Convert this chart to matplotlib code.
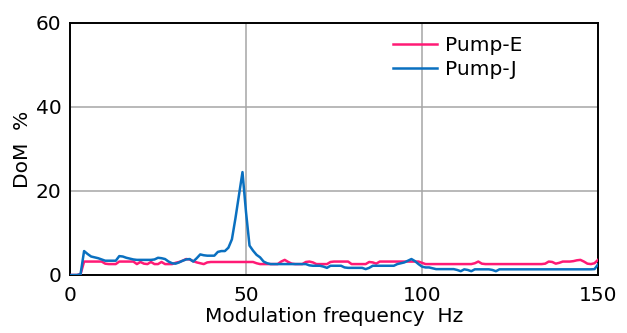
import matplotlib
matplotlib.use("Agg")
import matplotlib.pyplot as plt

plt.rcParams['font.family'] = ['DejaVu Sans']

freq = list(range(0, 151))

pump_e = [
    0, 0, 0, 0.2, 3.2, 3.2, 3.2, 3.2, 3.2, 3.2,          # 0-9
    2.7, 2.6, 2.6, 2.6, 3.2, 3.2, 3.2, 3.2, 3.2, 2.6,    # 10-19
    3.1, 2.7, 2.6, 3.1, 2.6, 2.6, 3.1, 2.6, 2.6, 2.6,    # 20-29
    2.9, 3.1, 3.4, 3.8, 3.7, 3.3, 3.0, 2.8, 2.6, 3.0,    # 30-39
    3.1, 3.1, 3.1, 3.1, 3.1, 3.1, 3.1, 3.1, 3.1, 3.1,    # 40-49
    3.1, 3.1, 3.1, 2.8, 2.6, 2.6, 2.6, 2.6, 2.6, 2.6,    # 50-59
    3.2, 3.6, 3.1, 2.7, 2.6, 2.6, 2.6, 3.1, 3.2, 3.0,    # 60-69
    2.6, 2.6, 2.6, 2.6, 3.1, 3.2, 3.2, 3.2, 3.2, 3.2,    # 70-79
    2.6, 2.6, 2.6, 2.6, 2.6, 3.1, 3.0, 2.7, 3.2, 3.2,    # 80-89
    3.2, 3.2, 3.2, 3.2, 3.2, 3.2, 3.2, 3.2, 3.2, 3.2,    # 90-99
    2.9, 2.6, 2.6, 2.6, 2.6, 2.6, 2.6, 2.6, 2.6, 2.6,    # 100-109
    2.6, 2.6, 2.6, 2.6, 2.6, 2.8, 3.2, 2.7, 2.6, 2.6,    # 110-119
    2.6, 2.6, 2.6, 2.6, 2.6, 2.6, 2.6, 2.6, 2.6, 2.6,    # 120-129
    2.6, 2.6, 2.6, 2.6, 2.6, 2.7, 3.2, 3.1, 2.7, 2.9,    # 130-139
    3.2, 3.2, 3.2, 3.3, 3.5, 3.6, 3.2, 2.7, 2.6, 2.8,    # 140-149
    3.6,                                                 # 150
]

pump_j = [
    0, 0, 0, 0.2, 5.7, 5.0, 4.4, 4.2, 4.0, 3.7,          # 0-9
    3.4, 3.4, 3.4, 3.4, 4.5, 4.4, 4.1, 3.9, 3.7, 3.6,    # 10-19
    3.6, 3.6, 3.6, 3.6, 3.7, 4.1, 4.0, 3.8, 3.2, 2.8,    # 20-29
    2.7, 3.0, 3.4, 3.7, 3.8, 3.2, 4.0, 4.9, 4.7, 4.6,    # 30-39
    4.6, 4.6, 5.5, 5.7, 5.7, 6.5, 8.5, 13.5, 19.0, 24.5, # 40-49
    15.0, 7.0, 5.8, 4.8, 4.2, 3.2, 2.8, 2.6, 2.6, 2.6,   # 50-59
    2.6, 2.6, 2.6, 2.6, 2.6, 2.6, 2.6, 2.6, 2.3, 2.2,    # 60-69
    2.2, 2.2, 2.0, 1.7, 2.2, 2.2, 2.2, 2.2, 1.8, 1.7,    # 70-79
    1.7, 1.7, 1.7, 1.7, 1.4, 1.7, 2.2, 2.2, 2.2, 2.2,    # 80-89
    2.2, 2.2, 2.2, 2.6, 2.8, 3.0, 3.4, 3.8, 3.3, 2.6,    # 90-99
    2.0, 1.8, 1.8, 1.6, 1.4, 1.4, 1.4, 1.4, 1.4, 1.4,    # 100-109
    1.2, 0.9, 1.35, 1.2, 0.9, 1.35, 1.35, 1.35, 1.35, 1.35,  # 110-119
    1.2, 0.9, 1.35, 1.35, 1.35, 1.35, 1.35, 1.35, 1.35, 1.35,  # 120-129
    1.35, 1.35, 1.35, 1.35, 1.35, 1.35, 1.35, 1.35, 1.35, 1.35,  # 130-139
    1.35, 1.35, 1.35, 1.35, 1.35, 1.35, 1.35, 1.35, 1.35, 1.4,  # 140-149
    2.5,                                                 # 150
]

series_names = ["Pump-E", "Pump-J"]
series_colors = ["#FF1A75", "#0A70C0"]
x_ticks = [0, 50, 100, 150]
y_ticks = [0, 20, 40, 60]

FS = 14.5

fig = plt.figure(figsize=(6.27, 3.33), dpi=100)
ax = fig.add_axes([70 / 627, (333 - 275) / 333, 528 / 627, 252 / 333])

ax.plot(freq, pump_e, color=series_colors[0], lw=1.8, label=series_names[0], zorder=3)
ax.plot(freq, pump_j, color=series_colors[1], lw=1.8, label=series_names[1], zorder=4)

ax.set_xlim(0, 150)
ax.set_ylim(0, 60)
ax.set_xticks(x_ticks)
ax.set_yticks(y_ticks)
ax.tick_params(length=0, labelsize=FS, colors='black')
ax.tick_params(axis='x', pad=8)
ax.tick_params(axis='y', pad=6)
ax.grid(True, color='#a6a6a6', lw=1.1)
ax.set_axisbelow(True)
for s in ax.spines.values():
    s.set_color('black')
    s.set_linewidth(1.4)

ax.set_xlabel("Modulation frequency  Hz", fontsize=FS, labelpad=1, color='black')
ax.set_ylabel("DoM  %", fontsize=FS, labelpad=3, color='black')

ax.legend(loc='upper left', bbox_to_anchor=(0.612, 0.95), frameon=False,
          fontsize=FS, borderpad=0, borderaxespad=0, handlelength=2.2,
          handletextpad=0.4, labelspacing=0.25)

fig.savefig("out.png", dpi=100)
